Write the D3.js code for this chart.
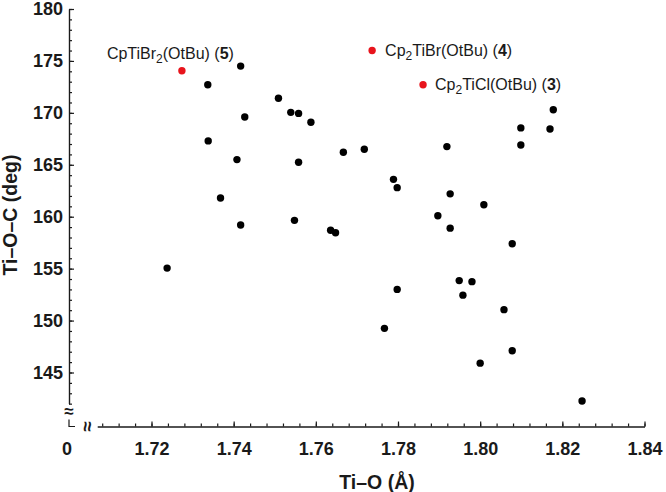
<!DOCTYPE html>
<html>
<head>
<meta charset="utf-8">
<script src="https://cdn.jsdelivr.net/npm/d3@7/dist/d3.min.js"></script>
<style>
body { margin: 0; background: #fff; }
svg { display: block; font-family: "Liberation Sans", Arial, sans-serif; }
</style>
</head>
<body>
<div id="chart"></div>
<script>
// Ti-O bond length (A) and Ti-O-C angle (deg), literature structures
const tiO = [1.7417, 1.7337, 1.7509, 1.7427, 1.7539, 1.7558, 1.7588, 1.7338, 1.7408, 1.7558,
             1.7667, 1.7718, 1.7789, 1.7798, 1.7368, 1.7417, 1.7548, 1.7636, 1.7648, 1.7238,
             1.7798, 1.8178, 1.8099, 1.8170, 1.7919, 1.8099, 1.7927, 1.8009, 1.7897, 1.7927,
             1.8078, 1.7949, 1.7980, 1.7958, 1.8058, 1.7767, 1.8078, 1.8000, 1.8248];
const tiOC = [174.5, 172.7, 171.4, 169.6, 170.05, 169.95, 169.1, 167.3, 165.5, 165.25,
              166.2, 166.5, 163.6, 162.8, 161.8, 159.2, 159.65, 158.7, 158.45, 155.05,
              153.0, 170.3, 168.55, 168.45, 166.75, 166.9, 162.2, 161.15, 160.1, 158.9,
              157.4, 153.85, 153.75, 152.45, 151.05, 149.25, 147.1, 145.9, 142.25];

// complexes from this work
const cmpTiO = [1.7274, 1.7737, 1.7861];
const cmpTiOC = [174.05, 176.0, 172.7];
const cmpHead = ["CpTiBr", "Cp", "Cp"];
const cmpSub = ["2", "2", "2"];
const cmpTail = ["(OtBu) (", "TiBr(OtBu) (", "TiCl(OtBu) ("];
const cmpNum = ["5", "4", "3"];

const xMajor = [1.72, 1.74, 1.76, 1.78, 1.80, 1.82, 1.84];
const yMajor = [145, 150, 155, 160, 165, 170, 175, 180];

const W = 666, H = 492;
const axisX = 69, axisY = 426.5;

const svg = d3.select("#chart")
    .append("svg")
    .attr("width", W)
    .attr("height", H);

const x = d3.scaleLinear().domain([1.72, 1.84]).range([151.5, 644.5]);
const y = d3.scaleLinear().domain([145, 180]).range([372.5, 9]);

// axes run a little past the first labelled tick, then break
const xAx = x.copy().domain([1.7068, 1.84]).range([x(1.7068), x(1.84)]);
const yAx = y.copy().domain([142, 180]).range([y(142), y(180)]);

const ink = "#1a1a1a";

// x axis
const gx = svg.append("g").attr("transform", `translate(0,${axisY})`);
gx.call(d3.axisBottom(xAx)
    .tickValues(d3.range(0, 34).map(i => 1.708 + i * 0.004))
    .tickSizeInner(-3).tickSizeOuter(0).tickFormat(""));
gx.append("g").call(d3.axisBottom(xAx)
    .tickValues(xMajor)
    .tickSizeInner(-5).tickSizeOuter(0).tickPadding(16)
    .tickFormat(d3.format(".2f")));

// y axis
const gy = svg.append("g").attr("transform", `translate(${axisX},0)`);
gy.call(d3.axisLeft(yAx)
    .tickValues(d3.range(142, 181))
    .tickSizeInner(-3).tickSizeOuter(0).tickFormat(""));
gy.append("g").call(d3.axisLeft(yAx)
    .tickValues(yMajor)
    .tickSizeInner(-5).tickSizeOuter(0).tickPadding(6)
    .tickFormat(d3.format("d")));

svg.selectAll(".domain, .tick line").attr("stroke", ink).attr("stroke-width", 1.2);
svg.selectAll(".tick text")
    .attr("fill", ink)
    .style("font-size", "18px")
    .style("font-weight", "bold")
    .style("font-family", "'Liberation Sans', Arial, sans-serif");

// origin corner and axis breaks
svg.append("path")
    .attr("d", `M${axisX},${axisY - 7}V${axisY}H${axisX + 6}`)
    .attr("fill", "none").attr("stroke", ink).attr("stroke-width", 1.2);

svg.append("text")
    .attr("x", axisX).attr("y", 411)
    .attr("text-anchor", "middle").attr("dy", "0.35em")
    .attr("fill", ink)
    .style("font-size", "17px").style("font-weight", "bold")
    .text("≈");

svg.append("text")
    .attr("transform", `translate(88,${axisY}) rotate(90)`)
    .attr("text-anchor", "middle").attr("dy", "0.35em")
    .attr("fill", ink)
    .style("font-size", "19px").style("font-weight", "bold")
    .text("≈");

svg.append("text")
    .attr("x", 67).attr("y", axisY + 16)
    .attr("text-anchor", "middle").attr("dy", "0.71em")
    .attr("fill", ink)
    .style("font-size", "18px").style("font-weight", "bold")
    .text("0");

// points
svg.selectAll(".dot")
    .data(tiO)
    .enter()
    .append("circle")
    .attr("class", "dot")
    .attr("cx", d => x(d))
    .attr("cy", (d, i) => y(tiOC[i]))
    .attr("r", 3.7)
    .attr("fill", "#000");

svg.selectAll(".cmp")
    .data(cmpTiO)
    .enter()
    .append("circle")
    .attr("class", "cmp")
    .attr("cx", d => x(d))
    .attr("cy", (d, i) => y(cmpTiOC[i]))
    .attr("r", 3.7)
    .attr("fill", "#e8141c");

// labels for the complexes
const labelOffset = [[-75, -12], [13, 5], [12, 5]];
cmpTiO.forEach((d, i) => {
    const t = svg.append("text")
        .attr("x", x(d) + labelOffset[i][0])
        .attr("y", y(cmpTiOC[i]) + labelOffset[i][1])
        .attr("fill", ink)
        .style("font-size", "16px");
    t.append("tspan").text(cmpHead[i]);
    t.append("tspan").attr("dy", 4).style("font-size", "12px").text(cmpSub[i]);
    t.append("tspan").attr("dy", -4).text(cmpTail[i]);
    t.append("tspan").style("font-weight", "bold").text(cmpNum[i]);
    t.append("tspan").text(")");
});

// axis titles
svg.append("text")
    .attr("x", 377)
    .attr("y", 489)
    .attr("text-anchor", "middle")
    .attr("fill", ink)
    .style("font-size", "19.5px")
    .style("font-weight", "bold")
    .text("Ti–O (Å)");

svg.append("text")
    .attr("transform", "translate(17,215) rotate(-90)")
    .attr("text-anchor", "middle")
    .attr("fill", ink)
    .style("font-size", "19.5px")
    .style("font-weight", "bold")
    .text("Ti–O–C (deg)");
</script>
</body>
</html>
